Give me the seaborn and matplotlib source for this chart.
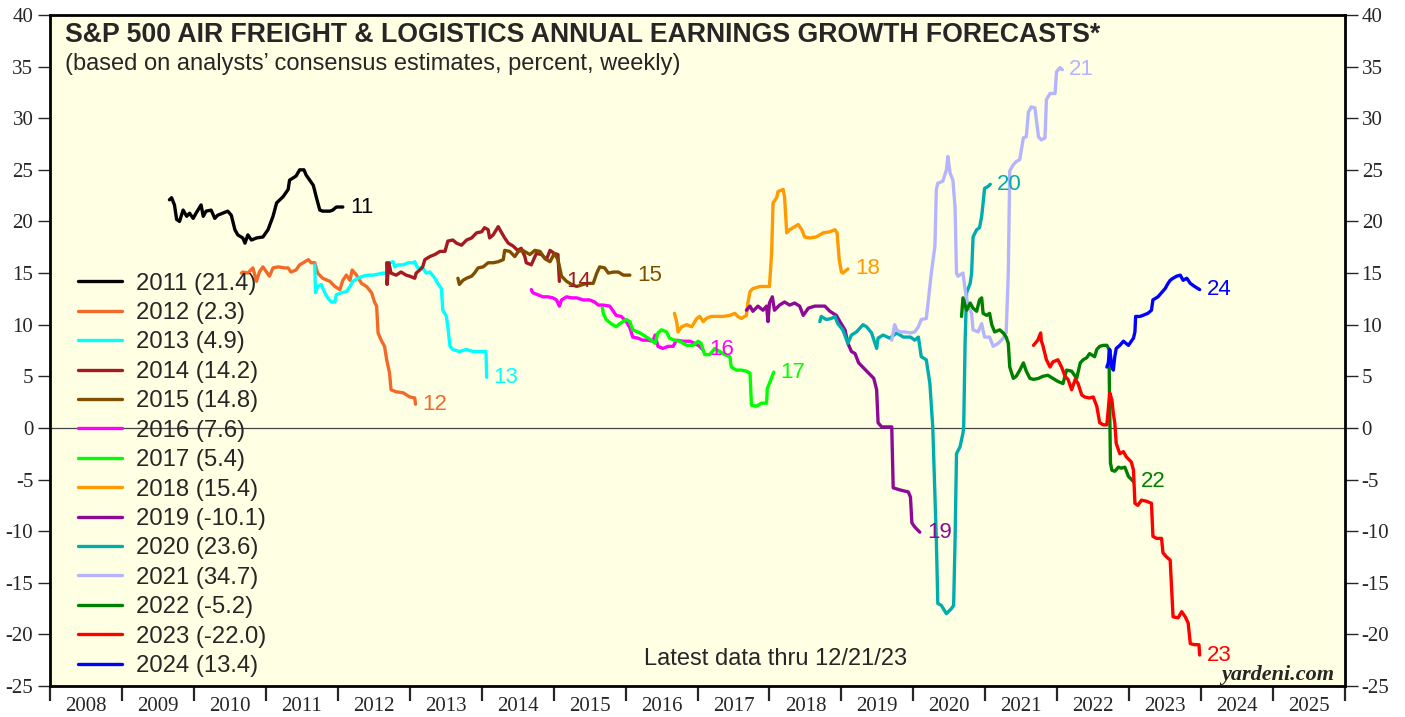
import matplotlib
matplotlib.use('Agg')
import matplotlib.pyplot as plt
import seaborn as sns
import pandas as pd
import numpy as np

# annual earnings growth forecasts, (decimal year, percent)
s2011 = [(2009.66, 22.1), (2009.69, 22.3), (2009.73, 21.6), (2009.76, 20.2), (2009.80, 20.0),
         (2009.85, 21.1), (2009.90, 20.5), (2009.94, 20.8), (2009.99, 20.3), (2010.03, 20.8),
         (2010.10, 21.6), (2010.13, 20.5), (2010.17, 21.0), (2010.24, 21.1), (2010.29, 20.3),
         (2010.33, 20.6), (2010.40, 20.8), (2010.47, 21.0), (2010.52, 20.6), (2010.57, 19.2),
         (2010.61, 18.7), (2010.68, 18.4), (2010.71, 17.9), (2010.75, 18.7), (2010.80, 18.2),
         (2010.87, 18.4), (2010.96, 18.5), (2011.03, 19.2), (2011.10, 20.5), (2011.15, 21.8),
         (2011.24, 22.4), (2011.31, 23.1), (2011.33, 24.0), (2011.42, 24.4), (2011.47, 25.0),
         (2011.53, 25.0), (2011.56, 24.5), (2011.61, 24.0), (2011.66, 23.5), (2011.70, 22.4),
         (2011.75, 21.1), (2011.79, 21.0), (2011.89, 21.0), (2011.93, 21.1), (2011.98, 21.4),
         (2012.07, 21.4)]
s2012 = [(2010.66, 15.0), (2010.68, 15.1), (2010.75, 15.0), (2010.82, 15.5), (2010.87, 14.2),
         (2010.91, 15.1), (2010.96, 15.6), (2011.01, 15.1), (2011.05, 14.7), (2011.10, 15.5),
         (2011.17, 15.6), (2011.26, 15.5), (2011.31, 15.5), (2011.35, 15.1), (2011.42, 15.3),
         (2011.47, 15.8), (2011.52, 16.0), (2011.59, 16.3), (2011.63, 16.0), (2011.68, 16.0),
         (2011.72, 15.0), (2011.79, 14.5), (2011.89, 14.2), (2011.96, 13.7), (2012.03, 13.4),
         (2012.07, 14.3), (2012.12, 14.8), (2012.17, 14.3), (2012.20, 15.3), (2012.26, 14.8),
         (2012.33, 14.0), (2012.40, 13.7), (2012.47, 13.1), (2012.51, 12.2), (2012.54, 11.8),
         (2012.56, 9.2), (2012.61, 8.4), (2012.65, 7.9), (2012.68, 6.6), (2012.72, 5.3),
         (2012.74, 3.7), (2012.81, 3.5), (2012.91, 3.4), (2013.00, 3.0), (2013.07, 2.9),
         (2013.08, 2.3)]
s2013 = [(2011.68, 15.8), (2011.69, 13.1), (2011.72, 13.7), (2011.77, 13.9), (2011.82, 13.1),
         (2011.86, 12.6), (2011.91, 12.2), (2011.96, 12.2), (2011.98, 12.9), (2012.05, 13.1),
         (2012.12, 13.2), (2012.17, 13.7), (2012.21, 14.2), (2012.28, 14.5), (2012.35, 14.7),
         (2012.42, 14.8), (2012.49, 14.8), (2012.56, 14.9), (2012.63, 15.0), (2012.68, 15.0),
         (2012.72, 16.0), (2012.77, 16.1), (2012.79, 15.6), (2012.84, 15.8), (2012.91, 15.8),
         (2012.98, 16.0), (2013.05, 16.0), (2013.07, 16.1), (2013.11, 15.5), (2013.18, 15.5),
         (2013.23, 15.0), (2013.28, 15.1), (2013.35, 14.5), (2013.39, 14.0), (2013.44, 13.5),
         (2013.46, 11.4), (2013.51, 10.8), (2013.53, 9.8), (2013.56, 7.9), (2013.60, 7.6),
         (2013.69, 7.4), (2013.79, 7.6), (2013.88, 7.4), (2014.00, 7.4), (2014.06, 7.4),
         (2014.07, 4.9)]
s2014 = [(2012.68, 16.0), (2012.685, 13.9), (2012.71, 16.0), (2012.74, 15.0), (2012.81, 14.8),
         (2012.88, 15.1), (2012.95, 14.8), (2013.00, 14.7), (2013.07, 14.5), (2013.09, 15.0),
         (2013.14, 15.3), (2013.18, 15.6), (2013.21, 16.3), (2013.28, 16.6), (2013.35, 16.8),
         (2013.42, 17.1), (2013.49, 17.1), (2013.53, 18.1), (2013.60, 18.2), (2013.65, 17.9),
         (2013.72, 17.7), (2013.79, 18.2), (2013.86, 18.4), (2013.93, 18.9), (2014.00, 19.0),
         (2014.04, 19.4), (2014.09, 19.2), (2014.11, 18.4), (2014.16, 18.7), (2014.23, 19.5),
         (2014.27, 19.0), (2014.32, 18.4), (2014.37, 17.9), (2014.44, 17.6), (2014.50, 17.2),
         (2014.55, 17.4), (2014.60, 16.6), (2014.62, 16.0), (2014.69, 15.8), (2014.76, 16.9),
         (2014.83, 16.8), (2014.90, 16.3), (2014.95, 17.2), (2015.01, 16.9), (2015.06, 16.8),
         (2015.08, 14.2)]
s2015 = [(2013.67, 14.5), (2013.69, 13.9), (2013.74, 14.3), (2013.79, 14.5), (2013.86, 14.7),
         (2013.90, 15.0), (2013.95, 15.5), (2014.02, 15.6), (2014.09, 16.0), (2014.16, 16.0),
         (2014.23, 16.1), (2014.30, 16.3), (2014.32, 17.2), (2014.39, 17.1), (2014.46, 16.6),
         (2014.51, 17.1), (2014.57, 17.2), (2014.67, 16.8), (2014.74, 17.2), (2014.81, 17.1),
         (2014.88, 16.4), (2014.95, 16.1), (2015.01, 16.9), (2015.06, 16.3), (2015.11, 14.7),
         (2015.18, 14.2), (2015.25, 13.9), (2015.32, 13.7), (2015.41, 13.9), (2015.48, 14.0),
         (2015.55, 14.0), (2015.60, 15.0), (2015.64, 15.6), (2015.71, 15.5), (2015.76, 15.0),
         (2015.83, 15.1), (2015.90, 15.1), (2015.97, 14.8), (2016.06, 14.8)]
s2016 = [(2014.69, 13.4), (2014.71, 13.1), (2014.78, 12.9), (2014.85, 12.7), (2014.92, 12.7),
         (2014.99, 12.6), (2015.04, 12.4), (2015.08, 11.8), (2015.11, 12.4), (2015.18, 12.7),
         (2015.25, 12.6), (2015.32, 12.6), (2015.41, 12.4), (2015.50, 12.4), (2015.57, 12.2),
         (2015.62, 11.9), (2015.69, 11.9), (2015.78, 11.8), (2015.83, 11.3), (2015.87, 10.9),
         (2015.94, 10.8), (2016.01, 10.3), (2016.06, 9.7), (2016.10, 8.8), (2016.17, 8.7),
         (2016.24, 8.5), (2016.31, 8.5), (2016.38, 8.4), (2016.41, 9.0), (2016.45, 7.9),
         (2016.52, 7.7), (2016.59, 7.9), (2016.66, 7.9), (2016.71, 8.5), (2016.80, 8.4),
         (2016.89, 8.4), (2016.96, 8.2), (2017.03, 7.9), (2017.07, 7.6)]
s2017 = [(2015.68, 11.6), (2015.69, 11.1), (2015.73, 10.5), (2015.80, 10.1), (2015.87, 9.8),
         (2015.92, 10.1), (2016.01, 10.5), (2016.06, 10.3), (2016.10, 9.5), (2016.20, 9.2),
         (2016.29, 8.8), (2016.36, 8.5), (2016.41, 8.2), (2016.45, 9.2), (2016.50, 9.5),
         (2016.57, 9.3), (2016.61, 8.7), (2016.68, 8.5), (2016.75, 8.4), (2016.85, 8.0),
         (2016.94, 8.0), (2017.01, 8.4), (2017.05, 8.2), (2017.10, 7.1), (2017.17, 7.1),
         (2017.24, 7.7), (2017.31, 7.4), (2017.38, 7.1), (2017.45, 6.9), (2017.47, 5.9),
         (2017.54, 5.6), (2017.61, 5.6), (2017.68, 5.5), (2017.73, 5.3), (2017.75, 2.2),
         (2017.82, 2.1), (2017.89, 2.4), (2017.96, 2.4), (2017.97, 3.8), (2018.01, 4.5),
         (2018.06, 5.4)]
s2018 = [(2016.68, 11.1), (2016.71, 10.3), (2016.73, 9.3), (2016.78, 9.8), (2016.85, 10.0),
         (2016.92, 9.8), (2016.99, 10.6), (2017.03, 10.8), (2017.08, 10.3), (2017.12, 10.6),
         (2017.19, 10.8), (2017.26, 10.8), (2017.35, 10.8), (2017.45, 10.9), (2017.52, 11.1),
         (2017.56, 10.8), (2017.61, 10.6), (2017.68, 10.9), (2017.70, 12.1), (2017.73, 13.2),
         (2017.77, 13.5), (2017.87, 13.7), (2018.00, 13.7), (2018.03, 16.9), (2018.05, 21.8),
         (2018.10, 22.3), (2018.12, 22.9), (2018.19, 23.1), (2018.21, 22.4), (2018.24, 18.9),
         (2018.28, 19.2), (2018.33, 19.4), (2018.40, 19.7), (2018.45, 19.2), (2018.49, 18.5),
         (2018.56, 18.4), (2018.65, 18.5), (2018.75, 18.9), (2018.84, 19.0), (2018.91, 19.2),
         (2018.94, 18.9), (2018.97, 16.3), (2019.00, 15.1), (2019.02, 15.0), (2019.09, 15.4)]
s2019 = [(2017.68, 11.4), (2017.73, 11.8), (2017.77, 11.3), (2017.84, 11.8), (2017.91, 11.4),
         (2017.96, 11.8), (2017.98, 10.3), (2018.00, 12.1), (2018.04, 12.7), (2018.07, 11.4),
         (2018.14, 11.9), (2018.21, 12.2), (2018.28, 11.9), (2018.35, 12.1), (2018.42, 11.8),
         (2018.47, 10.9), (2018.54, 11.6), (2018.63, 11.8), (2018.70, 11.8), (2018.77, 11.8),
         (2018.84, 11.3), (2018.93, 10.9), (2018.98, 10.3), (2019.05, 9.5), (2019.09, 8.2),
         (2019.14, 7.4), (2019.19, 7.2), (2019.24, 6.3), (2019.31, 5.8), (2019.38, 5.3),
         (2019.45, 4.8), (2019.49, 3.7), (2019.51, 0.5), (2019.56, 0.1), (2019.70, 0.1),
         (2019.72, -5.8), (2019.81, -6.0), (2019.93, -6.2), (2019.96, -6.7), (2019.98, -9.2),
         (2020.02, -9.6), (2020.09, -10.1)]
s2020 = [(2018.70, 10.3), (2018.72, 10.8), (2018.79, 10.5), (2018.86, 10.6), (2018.91, 10.8),
         (2018.95, 10.1), (2019.02, 9.5), (2019.09, 8.2), (2019.14, 9.0), (2019.21, 9.3),
         (2019.30, 10.0), (2019.35, 9.8), (2019.42, 9.2), (2019.49, 7.7), (2019.51, 8.7),
         (2019.58, 9.0), (2019.67, 8.7), (2019.77, 9.2), (2019.86, 8.8), (2019.96, 8.8),
         (2020.02, 8.5), (2020.07, 8.8), (2020.11, 6.9), (2020.18, 6.6), (2020.23, 4.3),
         (2020.27, 0.1), (2020.32, -10.9), (2020.34, -17.0), (2020.39, -17.2), (2020.46, -18.0),
         (2020.53, -17.5), (2020.56, -17.2), (2020.58, -10.9), (2020.60, -2.5), (2020.65, -1.8),
         (2020.69, -0.5), (2020.70, 0.1), (2020.72, 8.5), (2020.74, 13.1), (2020.79, 14.0),
         (2020.81, 15.0), (2020.83, 18.5), (2020.88, 19.2), (2020.92, 19.4), (2020.95, 20.5),
         (2020.97, 21.8), (2020.99, 23.2), (2021.04, 23.4), (2021.07, 23.6)]
s2021 = [(2019.70, 8.5), (2019.74, 10.0), (2019.77, 9.5), (2019.81, 9.3), (2019.88, 9.3),
         (2019.96, 9.2), (2020.02, 9.3), (2020.07, 9.8), (2020.11, 10.5), (2020.18, 10.6),
         (2020.20, 11.8), (2020.25, 15.0), (2020.30, 17.6), (2020.32, 23.1), (2020.34, 23.7),
         (2020.41, 23.9), (2020.46, 25.0), (2020.48, 26.3), (2020.51, 24.7), (2020.55, 24.0),
         (2020.58, 21.4), (2020.60, 15.0), (2020.62, 14.7), (2020.69, 15.0), (2020.72, 13.4),
         (2020.76, 11.8), (2020.81, 11.1), (2020.83, 9.5), (2020.90, 9.3), (2020.95, 10.1),
         (2020.99, 8.8), (2021.06, 8.8), (2021.11, 7.9), (2021.18, 8.2), (2021.25, 8.7),
         (2021.29, 9.2), (2021.32, 15.0), (2021.34, 24.9), (2021.39, 25.5), (2021.43, 25.8),
         (2021.48, 26.0), (2021.50, 26.9), (2021.53, 28.1), (2021.57, 28.2), (2021.60, 30.6),
         (2021.64, 31.1), (2021.69, 31.0), (2021.74, 28.2), (2021.78, 27.9), (2021.83, 28.1),
         (2021.85, 31.8), (2021.90, 32.4), (2021.97, 32.4), (2021.99, 34.5), (2022.04, 34.9),
         (2022.07, 34.7)]
s2022 = [(2020.67, 10.8), (2020.69, 12.6), (2020.74, 11.4), (2020.79, 12.1), (2020.83, 11.6),
         (2020.88, 11.3), (2020.92, 12.4), (2020.95, 12.6), (2020.97, 11.1), (2021.02, 10.9),
         (2021.06, 11.1), (2021.09, 10.0), (2021.13, 9.3), (2021.20, 9.5), (2021.25, 9.2),
         (2021.29, 8.8), (2021.32, 8.2), (2021.34, 5.9), (2021.39, 4.8), (2021.43, 5.0),
         (2021.48, 5.6), (2021.53, 6.3), (2021.57, 5.5), (2021.62, 4.8), (2021.67, 4.7),
         (2021.74, 4.8), (2021.80, 5.0), (2021.87, 5.1), (2021.94, 4.8), (2022.01, 4.5),
         (2022.08, 4.3), (2022.13, 5.6), (2022.20, 5.5), (2022.27, 4.8), (2022.32, 6.3),
         (2022.36, 6.6), (2022.41, 6.8), (2022.45, 7.2), (2022.52, 6.9), (2022.55, 7.6),
         (2022.59, 7.9), (2022.64, 8.0), (2022.69, 8.0), (2022.72, 7.6), (2022.725, 4.0),
         (2022.74, -3.4), (2022.76, -4.1), (2022.80, -4.2), (2022.85, -3.8), (2022.89, -3.9),
         (2022.94, -3.8), (2022.99, -4.7), (2023.06, -5.2)]
s2023 = [(2021.67, 8.0), (2021.73, 8.5), (2021.77, 9.2), (2021.78, 8.4), (2021.80, 8.0),
         (2021.85, 6.6), (2021.90, 5.9), (2021.94, 6.4), (2022.01, 6.6), (2022.06, 5.9),
         (2022.11, 5.0), (2022.15, 4.7), (2022.20, 3.7), (2022.25, 4.7), (2022.29, 4.3),
         (2022.34, 3.2), (2022.38, 3.0), (2022.45, 2.9), (2022.50, 3.0), (2022.55, 2.1),
         (2022.59, 0.5), (2022.64, 0.3), (2022.69, 0.3), (2022.73, 3.4), (2022.76, 2.7),
         (2022.78, 1.4), (2022.80, 0.5), (2022.82, -1.5), (2022.87, -2.5), (2022.92, -2.3),
         (2022.96, -2.8), (2023.03, -3.3), (2023.06, -4.1), (2023.08, -7.3), (2023.12, -7.5),
         (2023.17, -7.0), (2023.24, -7.1), (2023.31, -7.3), (2023.33, -10.5), (2023.38, -10.7),
         (2023.45, -10.7), (2023.47, -12.1), (2023.52, -12.5), (2023.57, -12.8), (2023.61, -18.3),
         (2023.68, -18.4), (2023.73, -17.8), (2023.78, -18.3), (2023.82, -18.9), (2023.85, -20.9),
         (2023.91, -21.0), (2023.97, -21.0), (2023.98, -22.0)]
s2024 = [(2022.69, 5.9), (2022.71, 6.3), (2022.73, 7.6), (2022.76, 5.9), (2022.78, 5.6),
         (2022.80, 6.9), (2022.82, 7.7), (2022.87, 8.0), (2022.92, 8.4), (2022.99, 8.0),
         (2023.03, 8.4), (2023.06, 8.7), (2023.08, 9.3), (2023.09, 10.8), (2023.15, 10.8),
         (2023.19, 10.9), (2023.26, 11.1), (2023.31, 11.4), (2023.33, 12.4), (2023.40, 12.7),
         (2023.45, 13.1), (2023.50, 13.5), (2023.54, 14.0), (2023.57, 14.3), (2023.61, 14.5),
         (2023.66, 14.7), (2023.71, 14.8), (2023.75, 14.3), (2023.80, 14.5), (2023.85, 14.0),
         (2023.91, 13.7), (2023.98, 13.4)]

legend_labels = ['2011 (21.4)', '2012 (2.3)', '2013 (4.9)', '2014 (14.2)', '2015 (14.8)',
                 '2016 (7.6)', '2017 (5.4)', '2018 (15.4)', '2019 (-10.1)', '2020 (23.6)',
                 '2021 (34.7)', '2022 (-5.2)', '2023 (-22.0)', '2024 (13.4)']
end_labels = ['11', '12', '13', '14', '15', '16', '17', '18', '19', '20', '21', '22', '23', '24']
all_series = [s2011, s2012, s2013, s2014, s2015, s2016, s2017,
              s2018, s2019, s2020, s2021, s2022, s2023, s2024]
colors = ['#000000', '#F26A2A', '#00FFFF', '#A31A22', '#7F4E00', '#FF00FF', '#00FF00',
          '#FF9A00', '#8E0A96', '#00ADAD', '#B4B4FF', '#008000', '#FF0000', '#0000FF']
year_labels = [str(y) for y in range(2008, 2026)]

rows = []
for name, pts in zip(legend_labels, all_series):
    for x, y in pts:
        rows.append((name, x, y))
df = pd.DataFrame(rows, columns=['series', 'year', 'value'])

sns.set_style('white')
plt.rcParams['font.family'] = ['Liberation Sans', 'DejaVu Sans']
plt.rcParams['axes.unicode_minus'] = False

fig = plt.figure(figsize=(14.05, 7.17), dpi=100)
ax = fig.add_axes([50 / 1405, 31 / 717, 1295 / 1405, 671 / 717])
ax.set_facecolor('#FFFFE3')

ax.axhline(0, color='#444444', lw=0.9, zorder=1)
sns.lineplot(data=df, x='year', y='value', hue='series', hue_order=legend_labels,
             palette=colors, estimator=None, sort=False, linewidth=2.4, ax=ax)

# year labels at line ends
for lbl, pts, c in zip(end_labels, all_series, colors):
    x, y = pts[-1]
    ax.annotate(lbl, xy=(x, y), xytext=(5, 0), textcoords='offset points',
                ha='left', va='center', color=c, fontsize=16)

handles, labels = ax.get_legend_handles_labels()
ax.legend(handles, labels, loc='upper left', bbox_to_anchor=(0.0216, 0.616),
          frameon=False, fontsize=17.2, handlelength=1.83, handletextpad=0.58,
          labelspacing=0.31, borderaxespad=0, borderpad=0)

ax.set_xlim(2008, 2026)
ax.set_ylim(-25, 40)
ax.set_xlabel('')
ax.set_ylabel('')
ax.set_yticks(range(-25, 41, 5))
ax.set_xticks(range(2008, 2027))
ax.set_xticklabels([])
ax.set_xticks(np.arange(2008.5, 2026, 1), minor=True)
ax.set_xticklabels(year_labels, minor=True)
ax.tick_params(axis='x', which='major', direction='out', length=11, width=1.6, bottom=True)
ax.tick_params(axis='x', which='minor', length=0, pad=8, labelsize=15,
               labelfontfamily='Liberation Serif')
ax.tick_params(axis='y', which='major', direction='out', length=9, width=1, left=True,
               right=True, labelleft=True, labelright=True, labelsize=15, pad=3,
               labelfontfamily='Liberation Serif')
for s in ax.spines.values():
    s.set_linewidth(2)
    s.set_color('black')

ax.text(0.0116, 0.970, 'S&P 500 AIR FREIGHT & LOGISTICS ANNUAL EARNINGS GROWTH FORECASTS*',
        transform=ax.transAxes, fontsize=19.2, fontweight='bold', ha='left', va='center')
ax.text(0.0116, 0.927, '(based on analysts\u2019 consensus estimates, percent, weekly)',
        transform=ax.transAxes, fontsize=17, ha='left', va='center')
ax.text(0.56, 0.040, 'Latest data thru 12/21/23', transform=ax.transAxes,
        fontsize=17, ha='center', va='center')
ax.text(0.992, 0.016, 'yardeni.com', transform=ax.transAxes, fontsize=16,
        family='Liberation Serif', fontweight='bold', fontstyle='italic', ha='right', va='center')

fig.savefig('out.png', dpi=100)
